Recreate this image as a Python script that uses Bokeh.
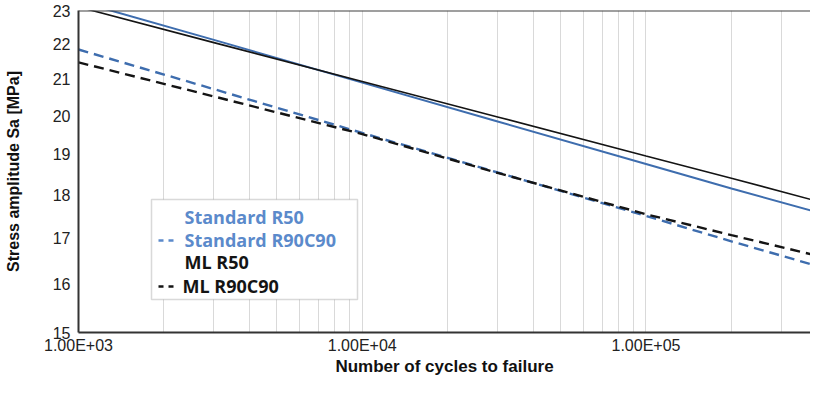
from bokeh.plotting import figure
from bokeh.models import (Range1d, FixedTicker, BasicTickFormatter, Span,
                          BoxAnnotation, Label)
from bokeh.embed import file_html
from bokeh.resources import INLINE

# ---- data ----
cycles = [1e3, 3e3, 1e4, 3e4, 1e5, 2e5, 4.2e5]
standard_r50 = [23.28, 22.12, 20.90, 19.85, 18.76, 18.16, 17.56]
standard_r90c90 = [21.84, 20.72, 19.55, 18.55, 17.51, 16.93, 16.35]
ml_r50 = [23.11, 22.04, 20.93, 19.97, 18.96, 18.41, 17.82]
ml_r90c90 = [21.47, 20.52, 19.52, 18.54, 17.55, 17.07, 16.58]

legend_labels = ["Standard R50", "Standard R90C90", "ML R50", "ML R90C90"]
x_tick_values = [1e3, 1e4, 1e5]
x_tick_labels = ["1.00E+03", "1.00E+04", "1.00E+05"]
y_tick_values = [15, 16, 17, 18, 19, 20, 21, 22, 23]
x_title = "Number of cycles to failure"
y_title = "Stress amplitude Sa [MPa]"

BLUE_LINE = "#3E6DAE"
BLUE_TEXT = "#5B8ACB"
BLACK = "#141414"

p = figure(width=810, height=378, x_axis_type="log", y_axis_type="log",
           x_range=Range1d(1e3, 3.8e5), y_range=Range1d(15, 23),
           output_backend="svg", toolbar_location=None,
           min_border_left=78, min_border_right=0, min_border_top=10,
           min_border_bottom=38)
p.outline_line_color = None
p.background_fill_color = "white"
p.border_fill_color = "white"

# grid: vertical lines at every 1..9 x 10^k
p.xgrid.ticker = FixedTicker(ticks=[m * 10 ** k for k in (3, 4, 5) for m in range(1, 10)])
p.xgrid.grid_line_color = "#D9D9D9"
p.xgrid.grid_line_width = 1
p.ygrid.visible = False

# axes
p.xaxis.ticker = FixedTicker(ticks=x_tick_values)
p.xaxis.major_label_overrides = dict(zip(x_tick_values, x_tick_labels))
p.yaxis.ticker = FixedTicker(ticks=y_tick_values)
p.yaxis.formatter = BasicTickFormatter()
for ax in (p.xaxis, p.yaxis):
    ax.axis_line_color = "#333333"
    ax.axis_line_width = 2
    ax.major_tick_line_color = None
    ax.minor_tick_line_color = None
    ax.major_tick_out = 0
    ax.major_tick_in = 0
    ax.minor_tick_out = 0
    ax.minor_tick_in = 0
    ax.major_label_text_font = "Liberation Sans"
    ax.major_label_text_font_size = "16px"
    ax.major_label_text_color = "#222222"
    ax.axis_label_text_font = "Liberation Sans"
    ax.axis_label_text_font_size = "16px"
    ax.axis_label_text_font_style = "bold"
    ax.axis_label_text_color = "#111111"
p.xaxis.axis_label = x_title
p.yaxis.axis_label = y_title
p.xaxis.axis_label_text_font_size = "17px"
p.xaxis.major_label_standoff = 4
p.xaxis.axis_label_standoff = 0
p.yaxis.major_label_standoff = 8
p.yaxis.axis_label_standoff = 28

# top border
p.add_layout(Span(location=p.y_range.end, dimension="width",
                  line_color="#404040", line_width=2))

# series
p.line(cycles, standard_r50, line_color=BLUE_LINE, line_width=2)
p.line(cycles, ml_r50, line_color=BLACK, line_width=1.6)
p.line(cycles, standard_r90c90, line_color=BLUE_LINE, line_width=2.4, line_dash="10 6")
p.line(cycles, ml_r90c90, line_color=BLACK, line_width=2.4, line_dash="10 6")

# legend (manual, to get per-item text colours)
p.add_layout(BoxAnnotation(left=73, right=279, bottom=33, top=133,
                           left_units="screen", right_units="screen",
                           bottom_units="screen", top_units="screen",
                           fill_color="white", fill_alpha=1.0,
                           line_color="#808080", line_width=1.5))
rows_y = [116, 93, 71, 47]
rows_x = [106, 106, 106, 104]
colors = [BLUE_TEXT, BLUE_TEXT, BLACK, BLACK]
for lab, yy, xx, c in zip(legend_labels, rows_y, rows_x, colors):
    p.add_layout(Label(x=xx, y=yy, x_units="screen", y_units="screen", text=lab,
                       text_font="Open Sans", text_font_style="bold",
                       text_font_size="18px", text_color=c,
                       text_baseline="middle", text_align="left"))
for yy, c in ((rows_y[1] - 1, BLUE_TEXT), (rows_y[3] - 1, BLACK)):
    for x0 in (80, 90):
        p.add_layout(BoxAnnotation(left=x0, right=x0 + 5, bottom=yy - 1.2, top=yy + 1.2,
                                   left_units="screen", right_units="screen",
                                   bottom_units="screen", top_units="screen",
                                   fill_color=c, fill_alpha=1.0, line_color=None))

open("out.html", "w").write(file_html(p, INLINE))
